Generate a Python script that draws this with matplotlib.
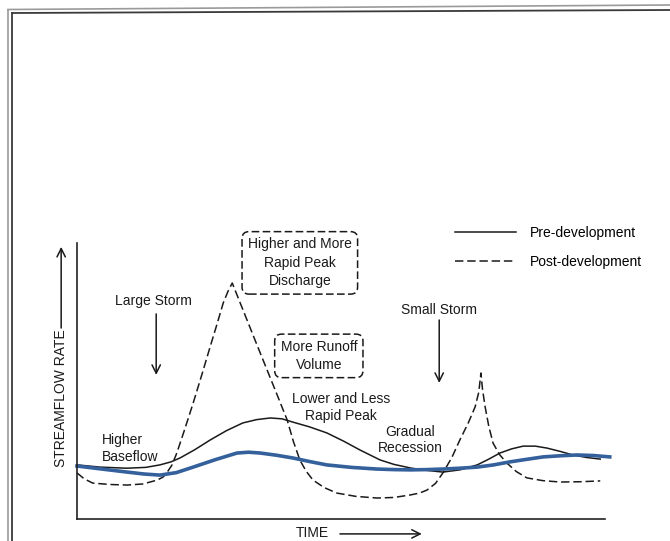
import numpy as np
import matplotlib.pyplot as plt

plt.rcParams['font.family'] = ['Liberation Sans', 'DejaVu Sans']

# time (0-100) vs streamflow (0-100)
pre_t = [0, 4.4, 9.4, 13, 15.7, 17.8, 19.5, 22.3, 25.2, 28.3, 31.4, 34, 36.6, 38.8,
         40.9, 44, 47.3, 50.5, 53.6, 57.4, 60, 63.1, 66.3, 69.3, 72.5, 75.8, 78,
         80.1, 82.3, 84.5, 86.8, 89, 91.5, 93.9, 96.5, 99.1]
pre_q = [19.6, 18.8, 18.4, 18.7, 19.6, 20.7, 22.1, 25.1, 28.6, 32.0, 34.8, 36.0, 36.6, 36.3,
         35.1, 33.4, 31.2, 28.2, 25.0, 21.4, 19.8, 18.5, 17.6, 17.0, 17.8, 19.6, 21.7,
         23.9, 25.4, 26.4, 26.4, 25.7, 24.5, 23.2, 22.3, 21.7]

post_t = [0, 1.4, 3.0, 6.3, 9.5, 12.5, 15.2, 16.3, 17.0, 18.0, 18.9, 20.4, 22.0, 23.6,
          25.2, 26.5, 27.7, 28.6, 29.4, 30.8, 32.2, 34.1, 36.0, 37.9, 39.8, 41.0,
          42.2, 43.4, 44.7, 46.8, 49.2, 52.8, 56.8, 60.0, 63.1, 64.9, 66.3, 67.9,
          69.3, 71.0, 72.5, 74.1, 75.4, 76.1, 76.5, 76.8, 77.3, 78.0, 78.8, 80.0,
          81.4, 83.2, 85.2, 88.2, 91.5, 95.3, 99.1]
post_q = [16.7, 14.5, 13.0, 12.5, 12.3, 12.7, 14.1, 15.2, 16.7, 19.6, 23.9, 32.5, 42.0, 52.0,
          62.3, 70.5, 78.3, 82.5, 85.5, 78.8, 72.1, 63.0, 54.0, 45.0, 35.9, 28.0,
          21.4, 17.3, 14.1, 11.4, 9.4, 8.2, 7.6, 7.8, 8.7, 9.4, 10.5, 12.9,
          16.7, 22.3, 28.6, 34.8, 40.6, 46.0, 52.9, 47.0, 40.6, 33.5, 27.5, 23.4,
          20.3, 17.2, 14.9, 13.9, 13.4, 13.5, 13.8]

blue_t = [0, 4.7, 9.5, 12.7, 15.7, 18.8, 22.0, 26.2, 30.3, 32.5, 34.7, 37.8, 40.9, 44.1,
          47.3, 52.0, 56.8, 60.0, 63.1, 66.2, 69.3, 72.5, 75.8, 78.9, 82.0, 85.1,
          88.3, 91.5, 94.7, 97.8, 100.9]
blue_q = [19.2, 18.1, 17.0, 16.3, 15.9, 16.8, 18.8, 21.5, 23.9, 24.2, 23.9, 23.1, 22.1, 20.8,
          19.6, 18.7, 18.1, 17.9, 17.8, 17.9, 18.1, 18.4, 18.8, 19.6, 20.7, 21.6,
          22.5, 22.9, 23.2, 23.0, 22.5]

fig = plt.figure(figsize=(6.7, 5.41), dpi=100)

# scanned page frame (pixel coordinates)
bg = fig.add_axes([0, 0, 1, 1], zorder=0)
bg.set_xlim(0, 670)
bg.set_ylim(541, 0)
bg.axis('off')
bg.plot([8, 8], [9.5, 541], color='#9a9a9a', lw=1.2)
bg.plot([8, 670], [9.5, 5], color='#9a9a9a', lw=1.2)
bg.plot([12, 12], [13, 541], color='#3a3a3a', lw=1.3)
bg.plot([12, 670], [13, 10], color='#3a3a3a', lw=1.3)

ax = fig.add_axes([77 / 670, 22 / 541, 528 / 670, 276 / 541], zorder=1)
ax.patch.set_alpha(0)
ax.set_xlim(0, 100)
ax.set_ylim(0, 100)
for s in ['top', 'right']:
    ax.spines[s].set_visible(False)
for s in ['left', 'bottom']:
    ax.spines[s].set_linewidth(1.2)
    ax.spines[s].set_color('#222222')
ax.set_xticks([])
ax.set_yticks([])

ax.plot(pre_t, pre_q, color='#1a1a1a', lw=1.1, label='Pre-development', clip_on=False)
ax.plot(post_t, post_q, color='#1a1a1a', lw=1.1, dashes=(5.5, 2.5),
        label='Post-development', clip_on=False)
ax.plot(blue_t, blue_q, color='#34609c', lw=2.6, clip_on=False)

fs = 10
ax.legend(loc='upper left', bbox_to_anchor=(455 / 670, 1 - 226 / 541),
          bbox_transform=fig.transFigure, frameon=False, fontsize=fs,
          handlelength=4.4, handletextpad=1.0, labelspacing=1.05,
          borderpad=0, borderaxespad=0)

box = dict(boxstyle='round,pad=0.42,rounding_size=0.5', fc='none', ec='#1a1a1a',
           lw=1.1, ls=(0, (5, 2.2)))
ax.text(42.2, 92.8, 'Higher and More\nRapid Peak\nDischarge', ha='center', va='center',
        fontsize=fs, linespacing=1.4, bbox=box, color='#1a1a1a')
ax.text(45.8, 59.1, 'More Runoff\nVolume', ha='center', va='center',
        fontsize=fs, linespacing=1.35, bbox=box, color='#1a1a1a')

ax.text(14.4, 79.0, 'Large Storm', ha='center', va='center', fontsize=fs, color='#1a1a1a')
ax.text(68.5, 75.8, 'Small Storm', ha='center', va='center', fontsize=fs, color='#1a1a1a')
ax.text(50.0, 40.4, 'Lower and Less\nRapid Peak', ha='center', va='center',
        fontsize=fs, linespacing=1.25, color='#1a1a1a')
ax.text(4.7, 25.5, 'Higher\nBaseflow', ha='left', va='center',
        fontsize=fs, linespacing=1.3, color='#1a1a1a')
ax.text(63.1, 28.6, 'Gradual\nRecession', ha='center', va='center',
        fontsize=fs, linespacing=1.25, color='#1a1a1a')

arr = dict(arrowstyle='->,head_length=0.6,head_width=0.3', color='#1a1a1a', lw=1.1,
           shrinkA=0, shrinkB=0)
ax.annotate('', xy=(15.0, 52.2), xytext=(15.0, 74.3), arrowprops=arr)
ax.annotate('', xy=(68.6, 49.3), xytext=(68.6, 72.1), arrowprops=arr)
ax.annotate('', xy=(-3.0, 98.6), xytext=(-3.0, 69.2), arrowprops=arr,
            annotation_clip=False)
ax.annotate('', xy=(65.3, -5.4), xytext=(49.8, -5.4), arrowprops=arr,
            annotation_clip=False)

ax.text(-3.0, 43.8, 'STREAMFLOW RATE', rotation=90, ha='center', va='center',
        fontsize=fs, color='#1a1a1a')
ax.text(44.6, -5.0, 'TIME', ha='center', va='center', fontsize=fs, color='#1a1a1a')

fig.savefig('out.png', dpi=100)
